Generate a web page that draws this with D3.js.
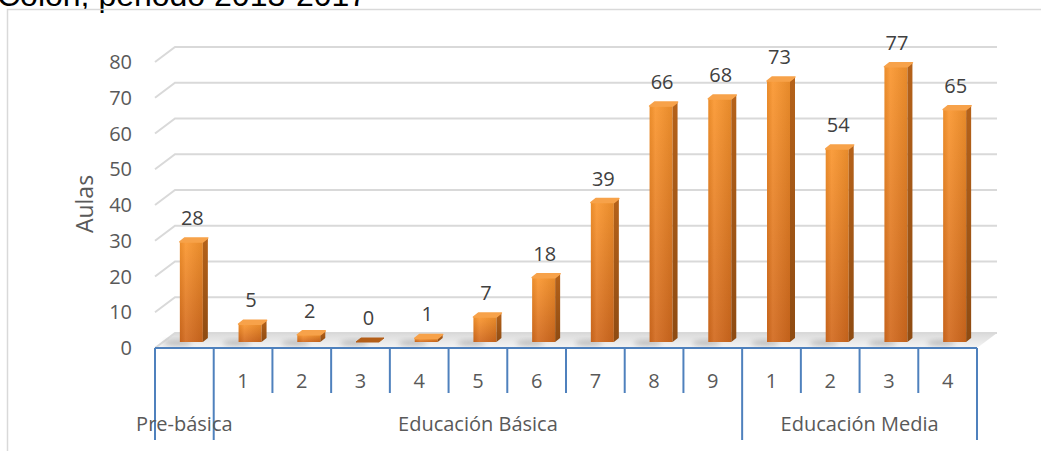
<!DOCTYPE html>
<html><head><meta charset="utf-8">
<script src="https://cdn.jsdelivr.net/npm/d3@7"></script>
<style>body{margin:0;background:#fff;overflow:hidden}svg{display:block}</style>
</head><body>
<svg id="c" width="1041" height="451"></svg>
<script>
const titleText = "Colón, periodo 2013-2017";
const groups = ["Pre-básica", "Educación Básica", "Educación Media"];
const subLabels = ["", "1", "2", "3", "4", "5", "6", "7", "8", "9", "1", "2", "3", "4"];
const groupOf = [0, 1, 1, 1, 1, 1, 1, 1, 1, 1, 2, 2, 2, 2];
const values = [28, 5, 2, 0, 1, 7, 18, 39, 66, 68, 73, 54, 77, 65];
const yTicks = [0, 10, 20, 30, 40, 50, 60, 70, 80];
const yTitle = "Aulas";

const svg = d3.select("#c");
const W = 1041, H = 451;
const FONT = "'Open Sans','Noto Sans',sans-serif";

// 3D geometry
const depth = {dx: 20, dy: -15};
const mid = {dx: 7, dy: -6};
const x = d3.scaleBand().domain(d3.range(values.length)).range([155, 977]).padding(0);
const y = d3.scaleLinear().domain([0, 80]).range([348, 62]);

const defs = svg.append("defs");
const gFront = defs.append("linearGradient").attr("id", "gFront").attr("x1", 0).attr("y1", 0).attr("x2", 0).attr("y2", 1);
gFront.append("stop").attr("offset", "0%").attr("stop-color", "#FA962E");
gFront.append("stop").attr("offset", "100%").attr("stop-color", "#D2691D");
const gFrontH = defs.append("linearGradient").attr("id", "gFrontH").attr("x1", 0).attr("y1", 0).attr("x2", 1).attr("y2", 0);
gFrontH.append("stop").attr("offset", "0%").attr("stop-color", "#000").attr("stop-opacity", 0.06);
gFrontH.append("stop").attr("offset", "25%").attr("stop-color", "#fff").attr("stop-opacity", 0.08);
gFrontH.append("stop").attr("offset", "100%").attr("stop-color", "#000").attr("stop-opacity", 0.08);
const gSide = defs.append("linearGradient").attr("id", "gSide").attr("x1", 0).attr("y1", 0).attr("x2", 0).attr("y2", 1);
gSide.append("stop").attr("offset", "0%").attr("stop-color", "#B5621A");
gSide.append("stop").attr("offset", "100%").attr("stop-color", "#8E4B12");
const gFloor = defs.append("linearGradient").attr("id", "gFloor").attr("x1", 0).attr("y1", 0).attr("x2", 0).attr("y2", 1);
gFloor.append("stop").attr("offset", "0%").attr("stop-color", "#DADADA");
gFloor.append("stop").attr("offset", "100%").attr("stop-color", "#F4F4F4");
const blur = defs.append("filter").attr("id", "blur").attr("x", "-50%").attr("y", "-50%").attr("width", "200%").attr("height", "200%");
blur.append("feGaussianBlur").attr("stdDeviation", 2.5);

// title (clipped at the top, as in the source)
svg.append("text").attr("x", -3).attr("y", 6).attr("font-family", "'Liberation Sans',Arial,sans-serif")
  .attr("font-size", 32).attr("fill", "#000").text(titleText);

// chart frame
svg.append("rect").attr("x", 7.5).attr("y", 9.5).attr("width", W + 10).attr("height", H + 10)
  .attr("fill", "none").attr("stroke", "#D9D9D9").attr("stroke-width", 1.5);

const x0 = x.range()[0], x1 = x.range()[1];

// floor
svg.append("path")
  .attr("d", `M${x0},${y(0)} L${x1},${y(0)} L${x1 + depth.dx},${y(0) + depth.dy} L${x0 + depth.dx},${y(0) + depth.dy} Z`)
  .attr("fill", "url(#gFloor)");

// gridlines (back wall + side wall diagonals)
const grid = svg.append("g").attr("stroke", "#D9D9D9").attr("stroke-width", 2).attr("fill", "none");
yTicks.forEach(t => {
  grid.append("path").attr("d",
    `M${x0},${y(t)} L${x0 + depth.dx},${y(t) + depth.dy} L${x1 + depth.dx},${y(t) + depth.dy}`);
});

// y tick labels
svg.append("g").selectAll("text").data(yTicks).join("text")
  .attr("x", 132).attr("y", d => y(d)).attr("dy", "0.35em").attr("text-anchor", "end")
  .attr("font-family", FONT).attr("font-size", 20).attr("fill", "#595959").text(d => d);

// y title
svg.append("text").attr("transform", "translate(85,204) rotate(-90)").attr("text-anchor", "middle")
  .attr("dy", "0.35em").attr("font-family", FONT).attr("font-size", 23).attr("fill", "#595959").text(yTitle);

// bars
const bw = 23, sw = 5, sh = 4;
const bars = svg.append("g");
values.forEach((v, i) => {
  const cx = x(i) + x.bandwidth() / 2 + mid.dx;
  const l = cx - bw / 2, r = cx + bw / 2;
  const b = y(0) + mid.dy, t = y(v) + mid.dy;
  const g = bars.append("g");
  g.append("ellipse").attr("cx", l - 2).attr("cy", b + 1).attr("rx", 14).attr("ry", 3)
    .attr("fill", "#9a9a9a").attr("opacity", 0.55).attr("filter", "url(#blur)");
  if (v > 0) {
    g.append("rect").attr("x", l).attr("y", t).attr("width", bw).attr("height", b - t)
      .attr("fill", "url(#gFront)");
    g.append("rect").attr("x", l).attr("y", t).attr("width", bw).attr("height", b - t)
      .attr("fill", "url(#gFrontH)");
    g.append("path").attr("d", `M${r},${t} L${r + sw},${t - sh} L${r + sw},${b - sh} L${r},${b} Z`)
      .attr("fill", "url(#gSide)");
    g.append("path").attr("d", `M${l},${t} L${r},${t} L${r + sw},${t - sh} L${l + sw},${t - sh} Z`)
      .attr("fill", "#F7A24A").attr("stroke", "#F7A24A").attr("stroke-width", 1.5).attr("stroke-linejoin", "round");
  } else {
    g.append("path").attr("d", `M${l},${b} L${r},${b} L${r + sw},${b - sh} L${l + sw},${b - sh} Z`)
      .attr("fill", "#B45F18").attr("stroke", "#B45F18").attr("stroke-width", 1).attr("stroke-linejoin", "round");
  }
  svg.append("text").attr("x", cx + 1).attr("y", t - 24).attr("dy", "0.35em").attr("text-anchor", "middle")
    .attr("font-family", FONT).attr("font-size", 20).attr("fill", "#404040").text(v);
});

// x axis line and ticks
const axis = svg.append("g").attr("stroke", "#4F81BD").attr("stroke-width", 2);
axis.append("line").attr("x1", x0).attr("x2", x1).attr("y1", y(0)).attr("y2", y(0));
for (let i = 0; i <= values.length; i++) {
  const xp = i < values.length ? x(i) : x1;
  const long = i === 0 || i === values.length || groupOf[i] !== groupOf[i - 1];
  axis.append("line").attr("x1", xp).attr("x2", xp).attr("y1", y(0)).attr("y2", long ? 440 : 393);
}

// sub labels
svg.append("g").selectAll("text").data(subLabels).join("text")
  .attr("x", (d, i) => x(i) + x.bandwidth() / 2).attr("y", 381).attr("dy", "0.35em").attr("text-anchor", "middle")
  .attr("font-family", FONT).attr("font-size", 20).attr("fill", "#595959").text(d => d);

// group labels
groups.forEach((gname, gi) => {
  const idx = d3.range(values.length).filter(i => groupOf[i] === gi);
  const a = x(idx[0]), bEnd = x(idx[idx.length - 1]) + x.bandwidth();
  svg.append("text").attr("x", (a + bEnd) / 2).attr("y", 424).attr("dy", "0.35em").attr("text-anchor", "middle")
    .attr("font-family", FONT).attr("font-size", 20).attr("fill", "#595959").text(gname);
});
</script>
</body></html>
